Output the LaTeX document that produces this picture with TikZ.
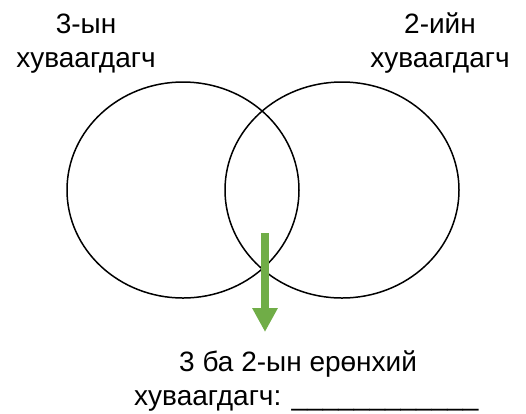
\documentclass[tikz,border=0pt]{standalone}
\usepackage{fontspec}
\setmainfont{Liberation Sans}
\usetikzlibrary{arrows.meta}
\definecolor{arrowgreen}{RGB}{112,173,71}
\tikzset{
  lbl/.style={font=\fontsize{28}{34}\selectfont, align=center, inner sep=0pt},
  settext/.style={font=\fontsize{28}{34}\selectfont, inner sep=0pt},
  setring/.style={line width=1.5pt}
}
\begin{document}
\begin{tikzpicture}[x=1pt,y=-1pt]
    \useasboundingbox (0,0) rectangle (526,413);
    % Olonlog
    \draw[setring] (183,190) ellipse (116 and 108);
    \draw[setring] (342,190) ellipse (117 and 108);

    % Garchig
    \node[lbl, anchor=base] (three) at (86,67) {3-ын\\хуваагдагч};
    \node[lbl, anchor=base] (two) at (440,67) {2-ийн\\хуваагдагч};

    % Sum
    \coordinate (arrtop) at (265,233);
    \coordinate (arrtip) at (265,332);
    \draw[arrowgreen, line width=8pt, -{Triangle[width=24pt,length=24pt]}] (arrtop) -- (arrtip);

    % Ernhii huvaagdagch
    \node[settext, anchor=base west] (common1) at (179,371) {3 ба 2-ын ерөнхий};
    \node[settext, anchor=base west] (common2) at (134,405) {хуваагдагч: \_\_\_\_\_\_\_\_\_\_\_\_};
\end{tikzpicture}
\end{document}
